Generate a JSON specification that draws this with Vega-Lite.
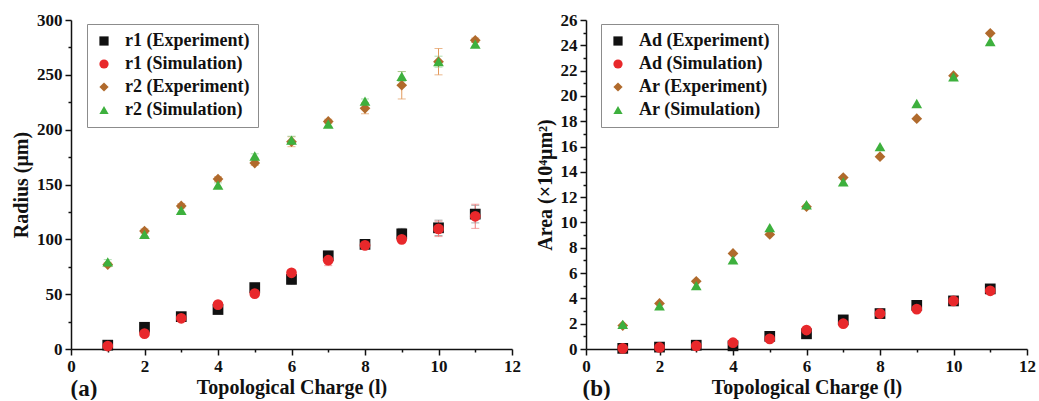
{
  "$schema": "https://vega.github.io/schema/vega-lite/v6.json",
  "background": "white",
  "padding": {"top": 11, "left": 11, "right": 4, "bottom": 0},
  "spacing": 14,
  "resolve": {"scale": {"color": "independent", "shape": "independent"}, "legend": {"color": "independent", "shape": "independent"}},
  "datasets": {
    "radius": [
      {"l": 1, "series": "r1 (Experiment)", "v": 3.5, "lo": 2, "hi": 5},
      {"l": 2, "series": "r1 (Experiment)", "v": 19.8, "lo": 17.8, "hi": 21.8},
      {"l": 3, "series": "r1 (Experiment)", "v": 29.5, "lo": 27.5, "hi": 31.5},
      {"l": 4, "series": "r1 (Experiment)", "v": 36, "lo": 34, "hi": 38},
      {"l": 5, "series": "r1 (Experiment)", "v": 56, "lo": 53.5, "hi": 58.5},
      {"l": 6, "series": "r1 (Experiment)", "v": 63.5, "lo": 59, "hi": 68},
      {"l": 7, "series": "r1 (Experiment)", "v": 85, "lo": 82, "hi": 88},
      {"l": 8, "series": "r1 (Experiment)", "v": 95.4, "lo": 93.4, "hi": 97.4},
      {"l": 9, "series": "r1 (Experiment)", "v": 105, "lo": 100, "hi": 110},
      {"l": 10, "series": "r1 (Experiment)", "v": 110.5, "lo": 103.5, "hi": 117.5},
      {"l": 11, "series": "r1 (Experiment)", "v": 123, "lo": 115, "hi": 131},
      {"l": 1, "series": "r1 (Simulation)", "v": 2.7, "lo": 1.7, "hi": 3.7},
      {"l": 2, "series": "r1 (Simulation)", "v": 14, "lo": 12.5, "hi": 15.5},
      {"l": 3, "series": "r1 (Simulation)", "v": 28, "lo": 26, "hi": 30},
      {"l": 4, "series": "r1 (Simulation)", "v": 40.5, "lo": 38.5, "hi": 42.5},
      {"l": 5, "series": "r1 (Simulation)", "v": 50.5, "lo": 48.5, "hi": 52.5},
      {"l": 6, "series": "r1 (Simulation)", "v": 69.5, "lo": 67, "hi": 72},
      {"l": 7, "series": "r1 (Simulation)", "v": 81, "lo": 76, "hi": 86},
      {"l": 8, "series": "r1 (Simulation)", "v": 94.5, "lo": 92.5, "hi": 96.5},
      {"l": 9, "series": "r1 (Simulation)", "v": 100, "lo": 98, "hi": 102},
      {"l": 10, "series": "r1 (Simulation)", "v": 109.5, "lo": 102.5, "hi": 116.5},
      {"l": 11, "series": "r1 (Simulation)", "v": 121, "lo": 110, "hi": 132},
      {"l": 1, "series": "r2 (Experiment)", "v": 77, "lo": 75, "hi": 79},
      {"l": 2, "series": "r2 (Experiment)", "v": 107.5, "lo": 105.5, "hi": 109.5},
      {"l": 3, "series": "r2 (Experiment)", "v": 130.5, "lo": 128.5, "hi": 132.5},
      {"l": 4, "series": "r2 (Experiment)", "v": 155, "lo": 153, "hi": 157},
      {"l": 5, "series": "r2 (Experiment)", "v": 169.5, "lo": 167.5, "hi": 171.5},
      {"l": 6, "series": "r2 (Experiment)", "v": 189, "lo": 184.5, "hi": 193.5},
      {"l": 7, "series": "r2 (Experiment)", "v": 207.5, "lo": 205.5, "hi": 209.5},
      {"l": 8, "series": "r2 (Experiment)", "v": 219.5, "lo": 214.5, "hi": 224.5},
      {"l": 9, "series": "r2 (Experiment)", "v": 240.5, "lo": 228, "hi": 253},
      {"l": 10, "series": "r2 (Experiment)", "v": 262, "lo": 250, "hi": 274},
      {"l": 11, "series": "r2 (Experiment)", "v": 281.5, "lo": 279.5, "hi": 283.5},
      {"l": 1, "series": "r2 (Simulation)", "v": 79.5, "lo": 77.5, "hi": 81.5},
      {"l": 2, "series": "r2 (Simulation)", "v": 104.5, "lo": 102.5, "hi": 106.5},
      {"l": 3, "series": "r2 (Simulation)", "v": 126.5, "lo": 124, "hi": 129},
      {"l": 4, "series": "r2 (Simulation)", "v": 149.5, "lo": 147.5, "hi": 151.5},
      {"l": 5, "series": "r2 (Simulation)", "v": 176, "lo": 174, "hi": 178},
      {"l": 6, "series": "r2 (Simulation)", "v": 190.5, "lo": 187, "hi": 194},
      {"l": 7, "series": "r2 (Simulation)", "v": 205, "lo": 203, "hi": 207},
      {"l": 8, "series": "r2 (Simulation)", "v": 226, "lo": 224, "hi": 228},
      {"l": 9, "series": "r2 (Simulation)", "v": 248.5, "lo": 244, "hi": 253},
      {"l": 10, "series": "r2 (Simulation)", "v": 262, "lo": 257, "hi": 267},
      {"l": 11, "series": "r2 (Simulation)", "v": 278, "lo": 276, "hi": 280}
    ],
    "area": [
      {"l": 1, "series": "Ad (Experiment)", "v": 0.05},
      {"l": 2, "series": "Ad (Experiment)", "v": 0.15},
      {"l": 3, "series": "Ad (Experiment)", "v": 0.3},
      {"l": 4, "series": "Ad (Experiment)", "v": 0.25},
      {"l": 5, "series": "Ad (Experiment)", "v": 1.0},
      {"l": 6, "series": "Ad (Experiment)", "v": 1.2},
      {"l": 7, "series": "Ad (Experiment)", "v": 2.3},
      {"l": 8, "series": "Ad (Experiment)", "v": 2.8},
      {"l": 9, "series": "Ad (Experiment)", "v": 3.45},
      {"l": 10, "series": "Ad (Experiment)", "v": 3.8},
      {"l": 11, "series": "Ad (Experiment)", "v": 4.75},
      {"l": 1, "series": "Ad (Simulation)", "v": 0.05},
      {"l": 2, "series": "Ad (Simulation)", "v": 0.12},
      {"l": 3, "series": "Ad (Simulation)", "v": 0.25},
      {"l": 4, "series": "Ad (Simulation)", "v": 0.5},
      {"l": 5, "series": "Ad (Simulation)", "v": 0.8},
      {"l": 6, "series": "Ad (Simulation)", "v": 1.5},
      {"l": 7, "series": "Ad (Simulation)", "v": 2.0},
      {"l": 8, "series": "Ad (Simulation)", "v": 2.8},
      {"l": 9, "series": "Ad (Simulation)", "v": 3.15},
      {"l": 10, "series": "Ad (Simulation)", "v": 3.8},
      {"l": 11, "series": "Ad (Simulation)", "v": 4.6},
      {"l": 1, "series": "Ar (Experiment)", "v": 1.85},
      {"l": 2, "series": "Ar (Experiment)", "v": 3.6},
      {"l": 3, "series": "Ar (Experiment)", "v": 5.35},
      {"l": 4, "series": "Ar (Experiment)", "v": 7.55},
      {"l": 5, "series": "Ar (Experiment)", "v": 9.05},
      {"l": 6, "series": "Ar (Experiment)", "v": 11.25},
      {"l": 7, "series": "Ar (Experiment)", "v": 13.55},
      {"l": 8, "series": "Ar (Experiment)", "v": 15.2},
      {"l": 9, "series": "Ar (Experiment)", "v": 18.2},
      {"l": 10, "series": "Ar (Experiment)", "v": 21.6},
      {"l": 11, "series": "Ar (Experiment)", "v": 24.95},
      {"l": 1, "series": "Ar (Simulation)", "v": 1.95},
      {"l": 2, "series": "Ar (Simulation)", "v": 3.4},
      {"l": 3, "series": "Ar (Simulation)", "v": 5.0},
      {"l": 4, "series": "Ar (Simulation)", "v": 7.05},
      {"l": 5, "series": "Ar (Simulation)", "v": 9.6},
      {"l": 6, "series": "Ar (Simulation)", "v": 11.4},
      {"l": 7, "series": "Ar (Simulation)", "v": 13.2},
      {"l": 8, "series": "Ar (Simulation)", "v": 16.0},
      {"l": 9, "series": "Ar (Simulation)", "v": 19.4},
      {"l": 10, "series": "Ar (Simulation)", "v": 21.5},
      {"l": 11, "series": "Ar (Simulation)", "v": 24.3}
    ]
  },
  "hconcat": [
    {
      "width": 441,
      "height": 329,
      "data": {"name": "radius"},
      "resolve": {"axis": {"x": "independent", "y": "independent"}},
      "layer": [
        {
          "transform": [{"filter": "datum.series === 'r1 (Experiment)'"}],
          "mark": {"type": "errorbar", "ticks": true, "size": 8, "thickness": 1, "color": "#8a8a8a"},
          "encoding": {
            "x": {"field": "l", "type": "quantitative", "scale": {"domain": [0, 12], "nice": false}, "axis": null},
            "y": {"field": "lo", "type": "quantitative", "scale": {"domain": [0, 300], "nice": false}, "axis": null},
            "y2": {"field": "hi"}
          }
        },
        {
          "transform": [{"filter": "datum.series === 'r1 (Simulation)'"}],
          "mark": {"type": "errorbar", "ticks": true, "size": 8, "thickness": 1, "color": "#f07a7a"},
          "encoding": {
            "x": {"field": "l", "type": "quantitative", "axis": null},
            "y": {"field": "lo", "type": "quantitative", "axis": null},
            "y2": {"field": "hi"}
          }
        },
        {
          "transform": [{"filter": "datum.series === 'r2 (Experiment)'"}],
          "mark": {"type": "errorbar", "ticks": true, "size": 8, "thickness": 1, "color": "#e39a5c"},
          "encoding": {
            "x": {"field": "l", "type": "quantitative", "axis": null},
            "y": {"field": "lo", "type": "quantitative", "axis": null},
            "y2": {"field": "hi"}
          }
        },
        {
          "transform": [{"filter": "datum.series === 'r2 (Simulation)'"}],
          "mark": {"type": "errorbar", "ticks": true, "size": 8, "thickness": 1, "color": "#8fd08f"},
          "encoding": {
            "x": {"field": "l", "type": "quantitative", "axis": null},
            "y": {"field": "lo", "type": "quantitative", "axis": null},
            "y2": {"field": "hi"}
          }
        },
        {
          "mark": {"type": "point", "opacity": 0},
          "encoding": {
            "x": {"field": "l", "type": "quantitative", "scale": {"domain": [0, 12], "nice": false},
              "axis": {"orient": "bottom", "values": [1, 3, 5, 7, 9, 11], "tickSize": 3, "labels": false, "domain": false, "title": "(a)", "titleAnchor": "start", "titleAlign": "left", "titleBaseline": "alphabetic", "titleY": 46, "titleX": -1, "titleFontSize": 23}},
            "y": {"field": "v", "type": "quantitative", "scale": {"domain": [0, 300], "nice": false},
              "axis": {"orient": "left", "values": [25, 75, 125, 175, 225, 275], "tickSize": 3, "labels": false, "domain": false, "title": null}}
          }
        },
        {
          "mark": {"type": "point", "filled": true, "size": 115, "opacity": 1},
          "encoding": {
            "x": {"field": "l", "type": "quantitative", "scale": {"domain": [0, 12], "nice": false},
              "axis": {"orient": "bottom", "values": [0, 2, 4, 6, 8, 10, 12], "title": "Topological Charge (l)", "titleBaseline": "alphabetic", "titleY": 44}},
            "y": {"field": "v", "type": "quantitative", "scale": {"domain": [0, 300], "nice": false},
              "axis": {"orient": "left", "values": [0, 50, 100, 150, 200, 250, 300], "title": "Radius (μm)"}},
            "color": {"field": "series", "type": "nominal",
              "scale": {"domain": ["r1 (Experiment)", "r1 (Simulation)", "r2 (Experiment)", "r2 (Simulation)"], "range": ["#111111", "#e8282b", "#b06a2c", "#3db03d"]},
              "legend": {"title": null, "orient": "none", "legendX": 16, "legendY": 4}},
            "shape": {"field": "series", "type": "nominal",
              "scale": {"domain": ["r1 (Experiment)", "r1 (Simulation)", "r2 (Experiment)", "r2 (Simulation)"], "range": ["square", "circle", "diamond", "triangle-up"]},
              "legend": {"title": null, "orient": "none", "legendX": 16, "legendY": 4}}
          }
        }
      ]
    },
    {
      "width": 441,
      "height": 329,
      "data": {"name": "area"},
      "resolve": {"axis": {"x": "independent", "y": "independent"}},
      "layer": [
        {
          "mark": {"type": "point", "opacity": 0},
          "encoding": {
            "x": {"field": "l", "type": "quantitative", "scale": {"domain": [0, 12], "nice": false},
              "axis": {"orient": "bottom", "values": [1, 3, 5, 7, 9, 11], "tickSize": 3, "labels": false, "domain": false, "title": "(b)", "titleAnchor": "start", "titleAlign": "left", "titleBaseline": "alphabetic", "titleY": 46, "titleX": -4, "titleFontSize": 23}},
            "y": {"field": "v", "type": "quantitative", "scale": {"domain": [0, 26], "nice": false},
              "axis": {"orient": "left", "values": [1, 3, 5, 7, 9, 11, 13, 15, 17, 19, 21, 23, 25], "tickSize": 3, "labels": false, "domain": false, "title": null}}
          }
        },
        {
          "mark": {"type": "point", "filled": true, "size": 115, "opacity": 1},
          "encoding": {
            "x": {"field": "l", "type": "quantitative", "scale": {"domain": [0, 12], "nice": false},
              "axis": {"orient": "bottom", "values": [0, 2, 4, 6, 8, 10, 12], "title": "Topological Charge (l)", "titleBaseline": "alphabetic", "titleY": 44}},
            "y": {"field": "v", "type": "quantitative", "scale": {"domain": [0, 26], "nice": false},
              "axis": {"orient": "left", "values": [0, 2, 4, 6, 8, 10, 12, 14, 16, 18, 20, 22, 24, 26], "title": "Area (×10⁴μm²)"}},
            "color": {"field": "series", "type": "nominal",
              "scale": {"domain": ["Ad (Experiment)", "Ad (Simulation)", "Ar (Experiment)", "Ar (Simulation)"], "range": ["#111111", "#e8282b", "#b06a2c", "#3db03d"]},
              "legend": {"title": null, "orient": "none", "legendX": 15, "legendY": 4}},
            "shape": {"field": "series", "type": "nominal",
              "scale": {"domain": ["Ad (Experiment)", "Ad (Simulation)", "Ar (Experiment)", "Ar (Simulation)"], "range": ["square", "circle", "diamond", "triangle-up"]},
              "legend": {"title": null, "orient": "none", "legendX": 15, "legendY": 4}}
          }
        }
      ]
    }
  ],
  "config": {
    "font": "Liberation Serif",
    "view": {"stroke": null},
    "axis": {
      "grid": false,
      "domainColor": "#111111",
      "domainWidth": 1.5,
      "tickColor": "#111111",
      "tickWidth": 1.5,
      "tickSize": 6,
      "labelFont": "Liberation Serif",
      "labelFontWeight": "bold",
      "labelFontSize": 17,
      "labelColor": "#111111",
      "labelPadding": 3,
      "labelFlush": false,
      "titleFont": "Liberation Serif",
      "titleFontWeight": "bold",
      "titleFontSize": 20,
      "titleColor": "#111111",
      "titlePadding": 5
    },
    "legend": {
      "labelFont": "Liberation Serif",
      "labelFontWeight": "bold",
      "labelFontSize": 18,
      "labelColor": "#111111",
      "symbolSize": 85,
      "symbolStrokeWidth": 0,
      "symbolOffset": 0,
      "labelOffset": 12,
      "rowPadding": 5,
      "padding": 8,
      "strokeColor": "#8c8c8c",
      "fillColor": "white",
      "labelLimit": 300
    }
  }
}
